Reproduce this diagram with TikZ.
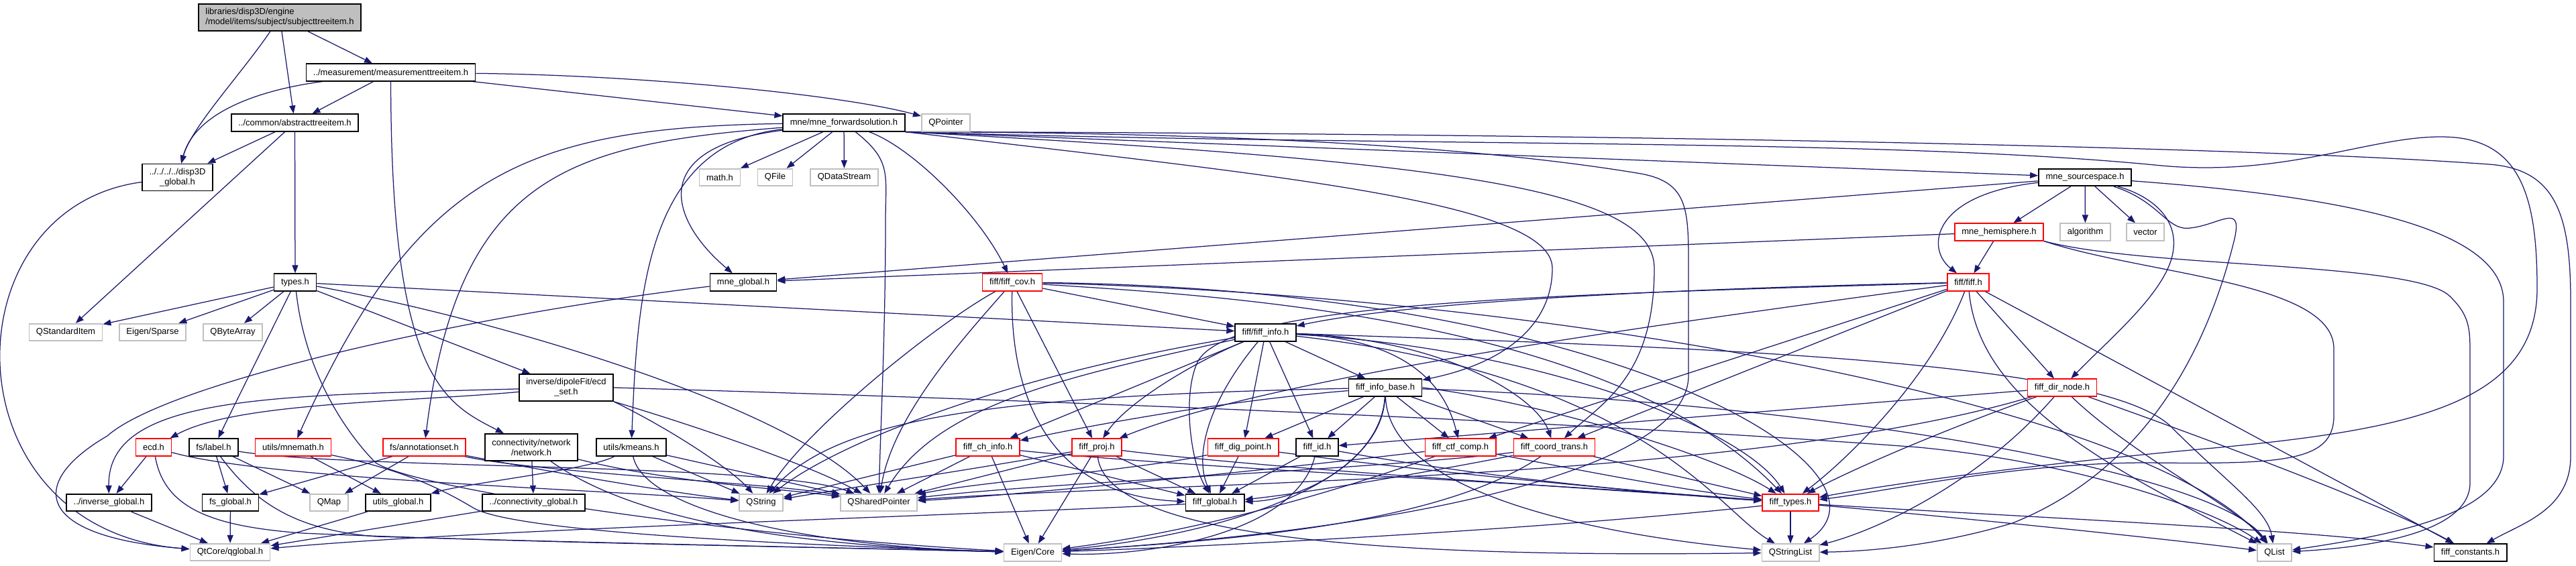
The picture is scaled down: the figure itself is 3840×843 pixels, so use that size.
\documentclass[tikz,border=0pt]{standalone}
\usepackage{fontspec}
\setmainfont{Liberation Sans}
\usetikzlibrary{arrows.meta}
\definecolor{edgec}{HTML}{191970}
\definecolor{grayb}{HTML}{BFBFBF}
\pgfdeclarelayer{bg}
\pgfdeclarelayer{edges}
\pgfsetlayers{bg,edges,main}
\begin{document}
\begin{tikzpicture}[x=1pt,y=-1pt,
  box/.style={draw=black, line width=1.7pt, fill=white, font=\fontsize{13}{15}\selectfont, inner xsep=10.5pt, inner ysep=0pt, minimum height=25.5pt},
  gbox/.style={box, draw=grayb},
  rbox/.style={box, draw=red},
  two/.style={align=center, minimum height=40pt},
  e/.style={draw=edgec, line width=1.25pt, -{Triangle[length=12pt,width=9pt]}},
]
\begin{pgfonlayer}{bg}
\fill[white] (0,0) rectangle (3840,843);
\end{pgfonlayer}
\useasboundingbox (0,0) rectangle (3840,843);

% ---------- nodes ----------
\node[box, two, fill=grayb, align=left] (root) at (417,26) {libraries/disp3D/engine\\/model/items/subject/subjecttreeitem.h};
\node[box] (meas) at (582.5,108) {../measurement/measurementtreeitem.h};
\node[box] (abstract) at (439.5,183) {../common/abstracttreeitem.h};
\node[box, two] (disp) at (264.5,264.5) {../../../../disp3D\\\_global.h};
\node[box] (types) at (440,421) {types.h};
\node[gbox] (qstd) at (98,495.5) {QStandardItem};
\node[gbox] (sparse) at (227.5,495.5) {Eigen/Sparse};
\node[gbox] (qbyte) at (347,495.5) {QByteArray};
\node[box, two] (ecdset) at (844,578) {inverse/dipoleFit/ecd\\\_set.h};
\node[rbox] (ecd) at (229,667) {ecd.h};
\node[box] (label) at (318.5,667) {fs/label.h};
\node[rbox] (mnemath) at (437,667) {utils/mnemath.h};
\node[rbox] (annot) at (632.5,667) {fs/annotationset.h};
\node[box, two] (network) at (792,667) {connectivity/network\\/network.h};
\node[box] (kmeans) at (941,667) {utils/kmeans.h};
\node[box] (invg) at (162.5,749.5) {../inverse\_global.h};
\node[box] (fsg) at (343.5,749.5) {fs\_global.h};
\node[gbox] (qmap) at (490.5,749.5) {QMap};
\node[box] (utilsg) at (593.5,749.5) {utils\_global.h};
\node[box] (conng) at (795.5,749.5) {../connectivity\_global.h};
\node[gbox] (qglobal) at (343,823.5) {QtCore/qglobal.h};
\node[box] (fwd) at (1258,183) {mne/mne\_forwardsolution.h};
\node[gbox] (qpointer) at (1410,183) {QPointer};
\node[gbox] (math) at (1073,264.5) {math.h};
\node[gbox] (qfile) at (1155.5,264.5) {QFile};
\node[gbox] (qds) at (1258.5,264.5) {QDataStream};
\node[box] (mneg) at (1108,421) {mne\_global.h};
\node[rbox] (cov) at (1509,421) {fiff/fiff\_cov.h};
\node[box] (info) at (1886.5,496) {fiff/fiff\_info.h};
\node[rbox] (chinfo) at (1472.5,667) {fiff\_ch\_info.h};
\node[rbox] (proj) at (1635,667) {fiff\_proj.h};
\node[rbox] (dig) at (1853,667) {fiff\_dig\_point.h};
\node[gbox] (qstring) at (1134.5,749.5) {QString};
\node[gbox] (qsp) at (1310,749.5) {QSharedPointer};
\node[box] (fiffg) at (1811,749.5) {fiff\_global.h};
\node[gbox] (eigen) at (1539.5,824) {Eigen/Core};
\node[box] (infobase) at (2065,578) {fiff\_info\_base.h};
\node[box] (fiffid) at (1963.5,667) {fiff\_id.h};
\node[rbox] (ctf) at (2177,667) {fiff\_ctf\_comp.h};
\node[rbox] (coord) at (2317,667) {fiff\_coord\_trans.h};
\node[rbox] (ftypes) at (2669,749.5) {fiff\_types.h};
\node[gbox] (qsl) at (2669,824) {QStringList};
\node[box] (src) at (3108,264.5) {mne\_sourcespace.h};
\node[rbox] (hemi) at (2980,346) {mne\_hemisphere.h};
\node[gbox] (algo) at (3108.5,346) {algorithm};
\node[gbox] (vec) at (3198,346) {vector};
\node[rbox] (fiffh) at (2934,421) {fiff/fiff.h};
\node[rbox] (dirnode) at (3074,578) {fiff\_dir\_node.h};
\node[gbox] (qlist) at (3390.5,824) {QList};
\node[box] (consts) at (3682.5,824) {fiff\_constants.h};

\begin{pgfonlayer}{edges}
% root
\draw[e] (root) .. controls (360,110) and (285,190) .. (disp);
\draw[e] (root) -- (abstract);
\draw[e] (root) -- (meas);
% measurementtreeitem
\draw[e] (meas) .. controls (380,135) and (290,170) .. (disp);
\draw[e] (meas) -- (abstract);
\draw[e] (meas) .. controls (583,560) and (660,600) .. (network);
\draw[e] (meas) -- (fwd);
\draw[e] (meas) .. controls (950,112) and (1250,140) .. (qpointer);
% abstracttreeitem
\draw[e] (abstract) -- (disp);
\draw[e] (abstract) -- (types);
\draw[e] (abstract) -- (qstd);
% disp3D_global
\draw[e] (disp) .. controls (-80,310) and (-80,790) .. (qglobal);
% types
\draw[e] (types) -- (qstd);
\draw[e] (types) -- (sparse);
\draw[e] (types) -- (qbyte);
\draw[e] (types) -- (label);
\draw[e] (types) -- (ecdset);
\draw[e] (types) -- (info);
\draw[e] (types) .. controls (760,480) and (1180,610) .. (qsp);
\draw[e] (types) .. controls (455,560) and (520,650) .. (560,690) .. controls (620,730) and (1100,800) .. (eigen);
% forward solution
\draw[e] (fwd) -- (math);
\draw[e] (fwd) -- (qfile);
\draw[e] (fwd) -- (qds);
\draw[e] (fwd) .. controls (960,220) and (1000,330) .. (mneg);
\draw[e] (fwd) .. controls (960,215) and (950,450) .. (kmeans);
\draw[e] (fwd) .. controls (780,190) and (620,260) .. (mnemath);
\draw[e] (fwd) .. controls (850,215) and (683,260) .. (annot);
\draw[e] (fwd) .. controls (1330,240) and (1320,260) .. (1320,330) .. controls (1320,500) and (1312,650) .. (qsp);
\draw[e] (fwd) .. controls (1360,220) and (1460,320) .. (cov);
\draw[e] (fwd.south east) -- (src);
\draw[e] (fwd.south east) .. controls (1900,262) and (2314,300) .. (2314,400) .. controls (2314,480) and (2250,540) .. (infobase);
\draw[e] (fwd.south east) .. controls (2150,240) and (2466,280) .. (2466,400) .. controls (2466,560) and (2390,600) .. (coord);
\draw[e] (fwd.south east) .. controls (2000,198) and (2300,235) .. (2440,258) .. controls (2517,270) and (2517,310) .. (2517,400) -- (2517,560) .. controls (2517,700) and (2100,790) .. (eigen);
\draw[e] (fwd.south east) .. controls (2200,198) and (3300,215) .. (3710,245) .. controls (3810,252) and (3832,320) .. (3832,450) -- (3832,680) .. controls (3832,760) and (3760,780) .. (consts);
\draw[e] (fwd.south east) .. controls (2100,220) and (2800,205) .. (3222,247) .. controls (3420,265) and (3550,195) .. (3660,205) .. controls (3760,215) and (3782,300) .. (3782,430) .. controls (3782,600) and (3600,640) .. (3300,668) .. controls (3000,695) and (2800,725) .. (ftypes);
% fiff_cov
\draw[e] (cov) -- (info);
\draw[e] (cov) -- (proj);
\draw[e] (cov) .. controls (1400,480) and (1200,640) .. (qstring);
\draw[e] (cov) .. controls (1440,500) and (1330,620) .. (qsp);
\draw[e] (cov) .. controls (1505,600) and (1570,740) .. (fiffg);
\draw[e] (cov) .. controls (1800,440) and (2400,470) .. (ftypes);
\draw[e] (cov) .. controls (2400,430) and (2850,700) .. (qsl);
\draw[e] (cov) .. controls (2300,440) and (3200,600) .. (qlist);
% fiff_info
\draw[e] (info) -- (infobase);
\draw[e] (info) -- (chinfo);
\draw[e] (info) .. controls (1780,540) and (1680,600) .. (proj);
\draw[e] (info) -- (dig);
\draw[e] (info) -- (fiffid);
\draw[e] (info) .. controls (1800,600) and (1780,680) .. (fiffg);
\draw[e] (info) .. controls (1600,560) and (1400,600) .. (qsp);
\draw[e] (info) .. controls (1500,560) and (1250,660) .. (qstring);
\draw[e] (info) .. controls (2080,505) and (2150,560) .. (ctf);
\draw[e] (info) .. controls (2150,505) and (2290,590) .. (coord);
\draw[e] (info) .. controls (2300,520) and (2600,640) .. (ftypes);
\draw[e] (info) .. controls (2450,560) and (2560,760) .. (qsl);
\draw[e] (info) .. controls (2600,520) and (3150,540) .. (3240,640) .. controls (3320,720) and (3380,760) .. (qlist);
% fiff_info_base
\draw[e] (infobase) -- (dig);
\draw[e] (infobase) -- (fiffid);
\draw[e] (infobase) -- (ctf);
\draw[e] (infobase) -- (coord);
\draw[e] (infobase.east) .. controls (2300,600) and (2560,680) .. (ftypes);
\draw[e] (infobase) .. controls (2070,740) and (2400,800) .. (qsl);
\draw[e] (infobase) .. controls (1800,600) and (1600,640) .. (chinfo);
\draw[e] (infobase) .. controls (1500,590) and (1250,620) .. (qstring);
\draw[e] (infobase) .. controls (2060,730) and (1800,800) .. (eigen);
\draw[e] (infobase) .. controls (2060,680) and (1950,745) .. (fiffg);
\draw[e] (infobase) .. controls (2700,600) and (3300,700) .. (qlist);
% fiff_ch_info
\draw[e] (chinfo) -- (qstring);
\draw[e] (chinfo) -- (qsp);
\draw[e] (chinfo) -- (eigen);
\draw[e] (chinfo) -- (fiffg);
\draw[e] (chinfo) .. controls (1800,700) and (2300,720) .. (ftypes);
% fiff_proj
\draw[e] (proj) -- (fiffg);
\draw[e] (proj) -- (eigen);
\draw[e] (proj) -- (qsp);
\draw[e] (proj) .. controls (1450,700) and (1250,730) .. (qstring);
\draw[e] (proj) .. controls (1900,700) and (2400,730) .. (ftypes);
\draw[e] (proj) .. controls (1650,820) and (2200,830) .. (qsl);
% fiff_dig_point
\draw[e] (dig) -- (fiffg);
\draw[e] (dig) .. controls (1700,700) and (1450,720) .. (qsp);
\draw[e] (dig) .. controls (2100,700) and (2400,730) .. (ftypes);
% fiff_id
\draw[e] (fiffid) -- (fiffg);
\draw[e] (fiffid) .. controls (2200,710) and (2450,735) .. (ftypes);
\draw[e] (fiffid) .. controls (1930,800) and (1700,830) .. (eigen);
% fiff_ctf_comp
\draw[e] (ctf) .. controls (2350,700) and (2500,730) .. (ftypes);
\draw[e] (ctf) .. controls (1900,700) and (1500,740) .. (qsp);
\draw[e] (ctf) .. controls (2000,730) and (1800,790) .. (eigen);
% fiff_coord_trans
\draw[e] (coord) -- (ftypes);
\draw[e] (coord) .. controls (2050,700) and (1550,720) .. (qsp);
\draw[e] (coord) .. controls (2150,780) and (1850,805) .. (eigen);
\draw[e] (coord) .. controls (2150,700) and (1950,735) .. (fiffg);
% fiff_types
\draw[e] (ftypes) -- (qsl);
\draw[e] (ftypes) .. controls (2300,790) and (1800,815) .. (eigen);
\draw[e] (ftypes) .. controls (3000,770) and (3450,790) .. (consts);
\draw[e] (ftypes) .. controls (2900,770) and (3200,800) .. (qlist);
% fiff_global
\draw[e] (fiffg) .. controls (1400,770) and (700,790) .. (qglobal);
% fiff.h
\draw[e] (fiffh) .. controls (2500,430) and (2100,450) .. (info);
\draw[e] (fiffh) .. controls (2300,440) and (1830,450) .. (1785,540) .. controls (1762,590) and (1775,690) .. (fiffg);
\draw[e] (fiffh) .. controls (2880,560) and (2760,680) .. (ftypes);
\draw[e] (fiffh) -- (dirnode);
\draw[e] (fiffh) -- (ctf);
\draw[e] (fiffh) -- (coord);
\draw[e] (fiffh) .. controls (2500,480) and (1900,560) .. (proj);
\draw[e] (fiffh) .. controls (2950,600) and (3150,700) .. (qlist);
\draw[e] (fiffh) -- (consts);
% fiff_dir_node
\draw[e] (dirnode) -- (fiffid);
\draw[e] (dirnode) .. controls (2900,640) and (2760,700) .. (ftypes);
\draw[e] (dirnode) .. controls (3180,680) and (3340,760) .. (qlist);
\draw[e] (dirnode) .. controls (3250,640) and (3550,750) .. (consts);
\draw[e] (dirnode) .. controls (2950,720) and (2800,790) .. (qsl);
\draw[e] (dirnode) .. controls (2600,720) and (1700,720) .. (qsp);
% mne_sourcespace
\draw[e] (src) -- (hemi);
\draw[e] (src) -- (algo);
\draw[e] (src) -- (vec);
\draw[e] (src) .. controls (2880,290) and (2870,370) .. (fiffh);
\draw[e] (src) -- (mneg);
\draw[e] (src) .. controls (3450,290) and (3732,330) .. (3732,450) -- (3732,680) .. controls (3732,770) and (3550,800) .. (qlist);
\draw[e] (src) .. controls (3200,290) and (3245,320) .. (3240,370) .. controls (3235,430) and (3150,500) .. (dirnode);
\draw[e] (src) .. controls (3220,300) and (3230,345) .. (3265,340) .. controls (3310,335) and (3345,300) .. (3330,360) .. controls (3290,520) and (3200,700) .. (3000,780) .. controls (2900,810) and (2800,822) .. (qsl);
% mne_hemisphere
\draw[e] (hemi) -- (fiffh);
\draw[e] (hemi) -- (mneg);
\draw[e] (hemi.south east) .. controls (3200,400) and (3590,390) .. (3650,440) .. controls (3682,470) and (3682,490) .. (3682,530) -- (3682,720) .. controls (3682,790) and (3550,815) .. (qlist);
\draw[e] (hemi.south east) .. controls (3200,410) and (3479,420) .. (3479,520) -- (3479,620) .. controls (3479,690) and (3400,692) .. (3200,690) .. controls (3000,690) and (2800,735) .. (ftypes);
% ecd_set
\draw[e] (ecdset) .. controls (600,600) and (350,600) .. (ecd);
\draw[e] (ecdset) .. controls (400,590) and (160,590) .. (invg);
\draw[e] (ecdset.south east) .. controls (1000,640) and (1090,700) .. (qstring);
\draw[e] (ecdset.south east) .. controls (1020,630) and (1200,690) .. (qsp);
\draw[e] (ecdset.east) .. controls (1500,595) and (2300,625) .. (2860,667) .. controls (3100,690) and (3300,760) .. (qlist);
% ecd
\draw[e] (ecd) -- (invg);
\draw[e] (ecd) .. controls (245,760) and (320,785) .. (450,795) .. controls (800,810) and (1200,815) .. (eigen);
\draw[e] (ecd) .. controls (400,715) and (900,730) .. (qstring);
% label
\draw[e] (label) -- (fsg);
\draw[e] (label) -- (qmap);
\draw[e] (label) .. controls (380,750) and (440,790) .. (560,800) .. controls (900,810) and (1300,818) .. (eigen);
\draw[e] (label) .. controls (520,700) and (1150,690) .. (qsp);
% mnemath
\draw[e] (mnemath) -- (utilsg);
\draw[e] (mnemath) .. controls (600,700) and (660,730) .. (705,757) .. controls (760,790) and (1100,810) .. (eigen);
% annotationset
\draw[e] (annot) -- (fsg);
\draw[e] (annot) -- (qmap);
\draw[e] (annot) .. controls (800,705) and (1150,720) .. (qsp);
\draw[e] (annot) .. controls (800,700) and (1000,735) .. (qstring);
% network
\draw[e] (network) -- (conng);
\draw[e] (network) .. controls (1000,720) and (1180,730) .. (qsp);
\draw[e] (network) .. controls (950,780) and (1200,815) .. (eigen);
% kmeans
\draw[e] (kmeans) .. controls (880,700) and (700,720) .. (utilsg);
\draw[e] (kmeans) -- (qstring);
\draw[e] (kmeans) -- (qsp);
\draw[e] (kmeans) .. controls (960,760) and (1200,815) .. (eigen);
% globals
\draw[e] (invg) -- (qglobal);
\draw[e] (fsg) -- (qglobal);
\draw[e] (utilsg) -- (qglobal);
\draw[e] (conng) -- (qglobal);
\draw[e] (mneg) .. controls (700,470) and (250,570) .. (160,650) .. controls (40,720) and (50,800) .. (qglobal);
\end{pgfonlayer}
\end{tikzpicture}
\end{document}
